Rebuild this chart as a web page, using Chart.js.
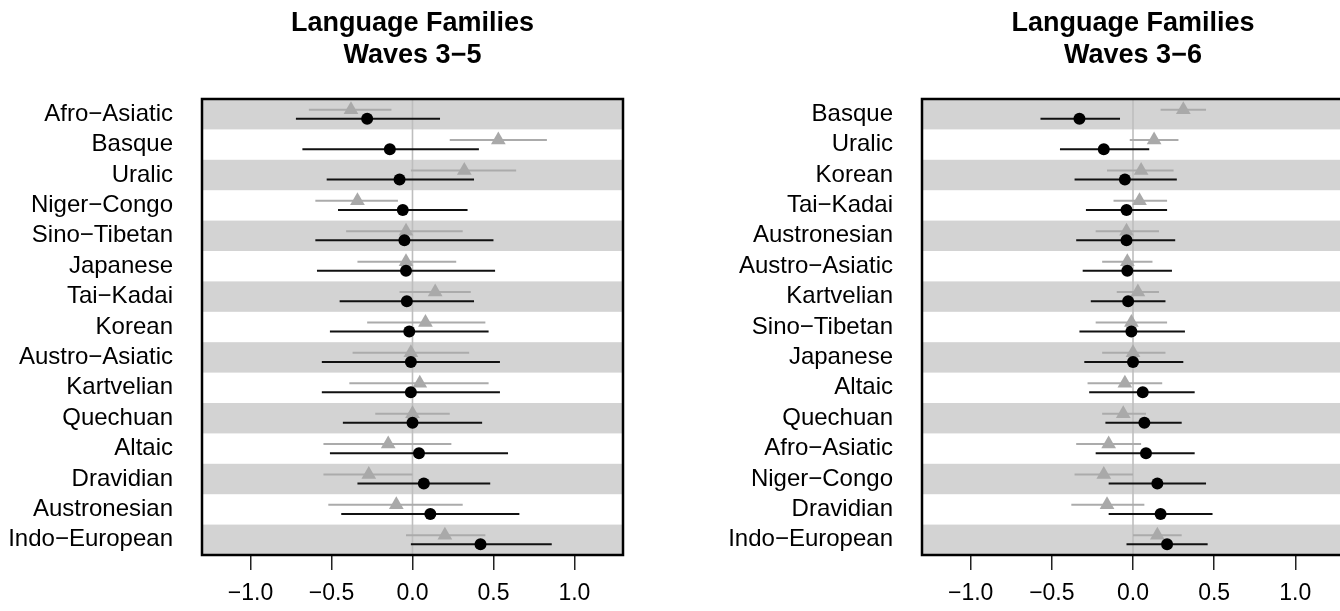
<!DOCTYPE html>
<html>
<head>
<meta charset="utf-8">
<script src="https://cdn.jsdelivr.net/npm/chart.js@4/dist/chart.umd.min.js"></script>
<style>
  html, body { margin: 0; padding: 0; background: #fff; overflow: hidden; width: 1340px; height: 611px; }
  canvas { position: absolute; top: 0; }
  #leftChart { left: 0; }
  #rightChart { left: 670px; }
</style>
</head>
<body>
<canvas id="leftChart" width="670" height="611"></canvas>
<canvas id="rightChart" width="700" height="611"></canvas>
<script>
// Waves 3-5
const famA = ['Afro\u2212Asiatic', 'Basque', 'Uralic', 'Niger\u2212Congo', 'Sino\u2212Tibetan', 'Japanese', 'Tai\u2212Kadai', 'Korean', 'Austro\u2212Asiatic', 'Kartvelian', 'Quechuan', 'Altaic', 'Dravidian', 'Austronesian', 'Indo\u2212European'];
const estA = [-0.28, -0.14, -0.08, -0.06, -0.05, -0.04, -0.035, -0.02, -0.01, -0.01, 0.0, 0.04, 0.07, 0.11, 0.42];
const loA = [-0.72, -0.68, -0.53, -0.46, -0.60, -0.59, -0.45, -0.51, -0.56, -0.56, -0.43, -0.51, -0.34, -0.44, -0.01];
const hiA = [0.17, 0.41, 0.38, 0.34, 0.50, 0.51, 0.38, 0.47, 0.54, 0.54, 0.43, 0.59, 0.48, 0.66, 0.86];
const estA2 = [-0.38, 0.53, 0.32, -0.34, -0.04, -0.04, 0.14, 0.08, -0.01, 0.045, 0.0, -0.15, -0.27, -0.10, 0.20];
const loA2 = [-0.64, 0.23, -0.01, -0.60, -0.41, -0.34, -0.08, -0.28, -0.37, -0.39, -0.23, -0.55, -0.55, -0.52, -0.04];
const hiA2 = [-0.13, 0.83, 0.64, -0.09, 0.31, 0.27, 0.36, 0.45, 0.35, 0.47, 0.23, 0.24, 0.0, 0.31, 0.45];

// Waves 3-6
const famB = ['Basque', 'Uralic', 'Korean', 'Tai\u2212Kadai', 'Austronesian', 'Austro\u2212Asiatic', 'Kartvelian', 'Sino\u2212Tibetan', 'Japanese', 'Altaic', 'Quechuan', 'Afro\u2212Asiatic', 'Niger\u2212Congo', 'Dravidian', 'Indo\u2212European'];
const estB = [-0.33, -0.18, -0.05, -0.04, -0.04, -0.035, -0.03, -0.01, 0.0, 0.06, 0.07, 0.08, 0.15, 0.17, 0.21];
const loB = [-0.57, -0.45, -0.36, -0.29, -0.35, -0.31, -0.26, -0.33, -0.30, -0.27, -0.17, -0.23, -0.15, -0.15, -0.04];
const hiB = [-0.08, 0.10, 0.27, 0.21, 0.26, 0.24, 0.20, 0.32, 0.31, 0.38, 0.30, 0.38, 0.45, 0.49, 0.46];
const estB2 = [0.31, 0.13, 0.05, 0.04, -0.04, -0.035, 0.03, -0.01, 0.0, -0.05, -0.06, -0.15, -0.18, -0.16, 0.15];
const loB2 = [0.17, -0.02, -0.16, -0.12, -0.23, -0.19, -0.10, -0.23, -0.19, -0.28, -0.19, -0.35, -0.36, -0.38, 0.0];
const hiB2 = [0.45, 0.28, 0.25, 0.21, 0.16, 0.12, 0.16, 0.21, 0.20, 0.18, 0.08, 0.05, 0.0, 0.07, 0.30];

const xTicks = [-1.0, -0.5, 0.0, 0.5, 1.0];
const FONT = '"Liberation Sans", Arial, Helvetica, sans-serif';

// gray stripes + zero line behind everything
const backdrop = {
    id: 'backdrop',
    beforeDatasetsDraw(chart) {
        const { ctx, chartArea: a, scales: { x, y } } = chart;
        const n = chart.options.plugins.backdrop.rows;
        ctx.save();
        ctx.fillStyle = '#d3d3d3';
        for (let i = 1; i <= n; i += 2) {
            const y0 = y.getPixelForValue(i - 0.5);
            const y1 = y.getPixelForValue(i + 0.5);
            ctx.fillRect(a.left, Math.min(y0, y1), a.right - a.left, Math.abs(y1 - y0));
        }
        const x0 = x.getPixelForValue(0);
        ctx.strokeStyle = '#bebebe';
        ctx.lineWidth = 1.6;
        ctx.beginPath();
        ctx.moveTo(x0, a.top);
        ctx.lineTo(x0, a.bottom);
        ctx.stroke();
        ctx.restore();
    },
    afterDatasetsDraw(chart) {
        const { ctx, chartArea: a } = chart;
        ctx.save();
        ctx.strokeStyle = '#000';
        ctx.lineWidth = 2.5;
        ctx.strokeRect(a.left, a.top, a.right - a.left, a.bottom - a.top);
        ctx.restore();
    },
    afterDraw(chart) {
        const { ctx, chartArea: a } = chart;
        const lines = chart.options.plugins.backdrop.title;
        ctx.save();
        ctx.fillStyle = '#000';
        ctx.font = 'bold 27px ' + FONT;
        ctx.textAlign = 'center';
        ctx.textBaseline = 'alphabetic';
        const cx = (a.left + a.right) / 2;
        ctx.fillText(lines[0], cx, a.top - 68);
        ctx.fillText(lines[1], cx, a.top - 36);
        ctx.restore();
    }
};

// horizontal interval segments, drawn under each dataset's markers
const errorBars = {
    id: 'errorBars',
    beforeDatasetDraw(chart, args) {
        const ds = chart.data.datasets[args.index];
        if (!ds.lo) return;
        const { ctx, scales: { x } } = chart;
        const meta = chart.getDatasetMeta(args.index);
        ctx.save();
        ctx.strokeStyle = ds.barColor;
        ctx.lineWidth = 2;
        meta.data.forEach((pt, i) => {
            ctx.beginPath();
            ctx.moveTo(x.getPixelForValue(ds.lo[i]), pt.y);
            ctx.lineTo(x.getPixelForValue(ds.hi[i]), pt.y);
            ctx.stroke();
        });
        ctx.restore();
    }
};

function makePanel(id, title, fams, est, lo, hi, est2, lo2, hi2, yWidth, padRight) {
    const blackPts = est.map((v, i) => ({ x: v, y: i + 1 + 0.15 }));
    const grayPts = est2.map((v, i) => ({ x: v, y: i + 1 - 0.15 }));
    return new Chart(document.getElementById(id), {
        type: 'scatter',
        data: {
            datasets: [
                {
                    data: blackPts, lo: lo, hi: hi, barColor: '#111',
                    pointStyle: 'circle', pointRadius: 6,
                    backgroundColor: '#000', borderWidth: 0
                },
                {
                    data: grayPts, lo: lo2, hi: hi2, barColor: '#ababab',
                    pointStyle: 'triangle', pointRadius: 8.5,
                    backgroundColor: '#a9a9a9', borderWidth: 0
                }
            ]
        },
        options: {
            responsive: false,
            animation: false,
            layout: { padding: { top: 99, right: padRight, left: 0, bottom: 0 } },
            plugins: {
                legend: { display: false },
                tooltip: { enabled: false },
                backdrop: { rows: fams.length, title: title }
            },
            scales: {
                x: {
                    type: 'linear', min: -1.3, max: 1.3,
                    afterBuildTicks: s => { s.ticks = xTicks.map(v => ({ value: v })); },
                    afterFit: s => { s.height = 56; },
                    grid: { drawOnChartArea: false, drawTicks: true, tickLength: 15, color: '#222', lineWidth: 1.5 },
                    border: { display: false },
                    ticks: {
                        autoSkip: false, maxRotation: 0, padding: 10, color: '#000',
                        font: { family: FONT, size: 23 },
                        callback: v => v.toFixed(1).replace('-', '\u2212')
                    }
                },
                y: {
                    type: 'linear', min: 0.5, max: fams.length + 0.5, reverse: true,
                    afterBuildTicks: s => { s.ticks = fams.map((_, i) => ({ value: i + 1 })); },
                    afterFit: s => { s.width = yWidth; },
                    grid: { display: false, drawTicks: false },
                    border: { display: false },
                    ticks: {
                        autoSkip: false, padding: 29, color: '#000',
                        font: { family: FONT, size: 24 },
                        callback: v => fams[v - 1]
                    }
                }
            }
        },
        plugins: [backdrop, errorBars]
    });
}

makePanel('leftChart', ['Language Families', 'Waves 3\u22125'], famA, estA, loA, hiA, estA2, loA2, hiA2, 202, 47);
makePanel('rightChart', ['Language Families', 'Waves 3\u22126'], famB, estB, loB, hiB, estB2, loB2, hiB2, 252, 26);
</script>
</body>
</html>
